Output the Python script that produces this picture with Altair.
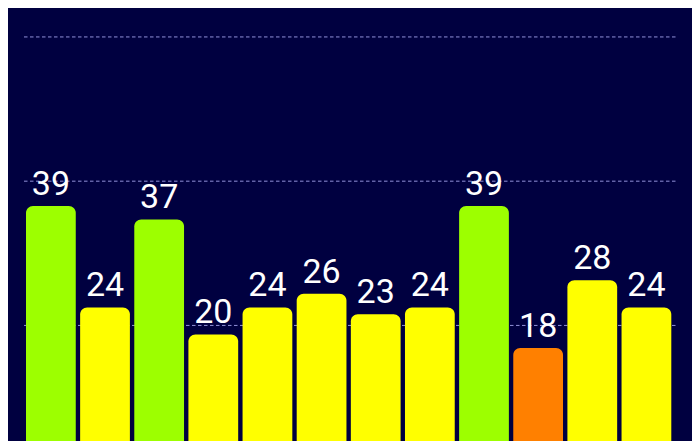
import altair as alt
import pandas as pd

categories = ["1", "2", "3", "4", "5", "6", "7", "8", "9", "10", "11", "12"]
values = [39, 24, 37, 20, 24, 26, 23, 24, 39, 18, 28, 24]
levels = ["high", "mid", "high", "mid", "mid", "mid", "mid", "mid", "high", "low", "mid", "mid"]
grid_values = [64 / 3, 128 / 3, 64]

level_names = ["high", "mid", "low"]
level_colors = ["#9dff00", "#ffff00", "#ff8000"]

df = pd.DataFrame({"cat": categories, "value": values, "level": levels})
grid_df = pd.DataFrame({"g": grid_values})

W, H = 684, 433
yscale = alt.Scale(domain=[4.24, 68.28], zero=False, nice=False)
xscale = alt.Scale(range=[18, 663.3], paddingInner=0.081, paddingOuter=0)

grid = alt.Chart(grid_df).mark_rule(
    color="#9090d8", strokeWidth=1, strokeDash=[3.5, 2.5]
).encode(
    y=alt.Y("g:Q", scale=yscale, axis=None),
    x=alt.value(16),
    x2=alt.value(668.7),
)

bars = alt.Chart(df).mark_bar(cornerRadius=7, clip=True).encode(
    x=alt.X("cat:N", sort=categories, scale=xscale, axis=None),
    y=alt.Y("value:Q", scale=yscale, axis=None),
    y2=alt.datum(0),
    color=alt.Color("level:N", scale=alt.Scale(domain=level_names, range=level_colors), legend=None),
)

labels = alt.Chart(df).mark_text(
    font="Roboto", fontSize=34, color="white", baseline="alphabetic", align="center", dy=-11
).encode(
    x=alt.X("cat:N", sort=categories, scale=xscale, axis=None),
    y=alt.Y("value:Q", scale=yscale, axis=None),
    text=alt.Text("value:Q"),
)

chart = alt.layer(grid, bars, labels).properties(
    width=W,
    height=H,
    background="#000040",
    padding={"left": 0, "top": 0, "right": 0, "bottom": 0},
    autosize=alt.AutoSizeParams(type="none"),
).configure_view(fill="#000040", stroke="transparent", strokeWidth=0)

chart.save("out.html", embed_options={"renderer": "svg", "actions": False})
